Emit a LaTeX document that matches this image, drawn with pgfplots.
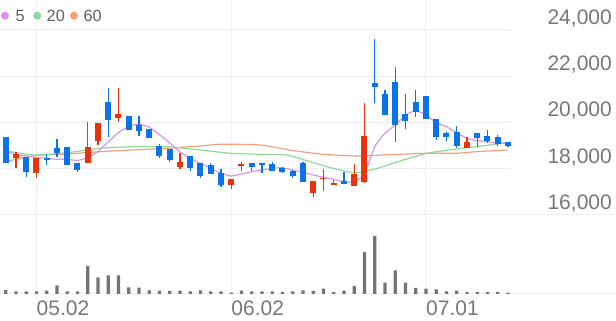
\documentclass[border=0pt]{standalone}
\usepackage{fontspec}
\setmainfont{Liberation Sans}
\usepackage{pgfplots}
\usepackage{pgfplotstable}
\pgfplotsset{compat=1.18}
\definecolor{cred}{HTML}{E8330C}
\definecolor{cblue}{HTML}{0B73E8}
\definecolor{cma5}{HTML}{D894EC}
\definecolor{cma20}{HTML}{8FD99B}
\definecolor{cma60}{HTML}{F5A07A}
\definecolor{cgrid}{HTML}{EFEFEF}
\definecolor{ctext}{HTML}{777777}
\definecolor{clegtext}{HTML}{5F5F5F}
\definecolor{cvol}{HTML}{747474}

% up (red) candles: x open high low close
\pgfplotstableread{
x o h l c
1 18452 18738 18020 18625
3 17804 18478 17587 18478
8 18262 20035 18262 18928
9 19213 19992 19027 19992
11 20182 21479 20035 20368
17 18089 18669 17977 18305
22 17298 17544 17112 17544
23 18119 18305 17916 18193
30 16965 17471 16792 17471
31 17544 17977 17038 17613
32 17298 17514 17298 17397
34 17267 18206 17267 17760
35 17440 20856 17397 19430
45 18885 19360 18885 19144
}\redtab

% down (blue) candles
\pgfplotstableread{
x o h l c
0 19386 19386 18236 18236
2 18521 18521 17657 17873
4 18452 18638 18163 18379
5 18885 19287 18521 18669
6 18928 18928 18163 18163
7 18236 18236 17847 17946
10 20900 21479 19386 20108
12 20294 20294 19676 19676
13 19892 20281 19417 19633
14 19706 19706 19317 19317
15 18997 19071 18452 18565
16 18854 18854 18305 18379
18 18552 18552 17916 18020
19 18236 18236 17587 17700
20 18163 18236 17773 17773
21 17804 17977 17224 17298
24 18262 18262 17916 18063
25 18236 18236 17804 18163
26 18206 18305 17916 17916
27 18046 18089 17804 17873
28 17903 17946 17613 17687
29 18236 18279 17440 17440
33 17484 17873 17328 17328
36 21695 23611 20856 21548
37 21233 21406 20325 20325
38 21764 22413 19170 19892
39 20355 21220 19706 20078
40 20900 21406 20251 20467
41 21159 21159 20152 20152
42 20152 20152 19244 19360
43 19533 19577 19213 19360
44 19602 19862 18885 18984
46 19559 19559 18954 19317
47 19430 19676 19127 19213
48 19386 19460 18997 19071
49 19170 19170 18928 18997
}\bluetab

\pgfplotstableread{
x y
0 18746
1 18617
2 18552
3 18487
4 18452
5 18409
6 18409
7 18357
8 18487
9 18746
10 19157
11 19568
12 19827
13 19935
14 19793
15 19473
16 19114
17 18738
18 18452
19 18227
20 18020
21 17804
22 17687
23 17773
24 17873
25 17946
26 18020
27 18046
28 17946
29 17847
30 17730
31 17631
32 17544
33 17440
34 17440
35 17773
36 18954
37 19533
38 19892
39 20325
40 20511
41 20325
42 19992
43 19819
44 19559
45 19317
46 19213
47 19170
48 19101
49 19101
}\mafive

\pgfplotstableread{
x y
0 18781
2.7 18595
6 18694
9.2 18885
12.4 18954
15.7 18954
19 18811
21.9 18669
24.8 18625
27.4 18595
29.7 18305
31.9 18020
33.9 17830
35 17873
36.8 18089
38.8 18379
41.1 18669
43.3 18811
45.9 18954
49 19127
}\matwenty

\pgfplotstableread{
x y
0 18305
2.7 18565
6 18638
9.2 18738
12.4 18811
15.7 18885
19 18984
20.9 19058
24.8 19027
27.7 18811
30.7 18638
33.9 18552
35.2 18552
36.8 18595
41.1 18669
44 18669
45.9 18738
49 18811
}\masixty

\pgfplotstableread{
x v
0 120
1 80
2 80
3 80
4 100
5 260
6 80
7 80
8 840
9 500
10 560
11 560
12 200
13 190
14 110
15 100
16 90
17 100
18 80
19 110
20 80
21 80
22 40
23 100
24 80
25 80
26 80
27 60
28 80
29 110
30 90
31 160
32 60
33 100
34 240
35 1260
36 1740
37 340
38 710
39 340
40 180
41 160
42 140
43 80
44 100
45 60
46 60
47 60
48 60
49 40
}\voltab

\begin{document}
\begin{tikzpicture}
\useasboundingbox (0pt,0pt) rectangle (616pt,321pt);
% price panel
\begin{axis}[
  at={(0pt,106pt)}, anchor=south west,
  scale only axis, width=511pt, height=215pt,
  xmin=-0.556, xmax=49.3, ymin=16000, ymax=25297,
  axis line style={draw=none}, major tick length=0pt,
  xtick={3,22,41}, xticklabels={}, xmajorgrids,
  ytick={16000,18000,20000,22000,24000}, ymajorgrids,
  grid style={draw=cgrid, line width=1pt},
  yticklabel pos=right,
  yticklabel style={anchor=base east, inner sep=0pt, xshift=101pt, yshift=5.5pt,
     font=\fontsize{21}{24}\selectfont, text=ctext},
  /pgf/number format/assume math mode=true,
  /pgf/number format/1000 sep={,},
  scaled y ticks=false,
  candle/.style={draw=none, mark=none, error bars/.cd, y dir=plus, y explicit, error mark=none},
]
\addplot[cma60, line width=1.2pt, smooth, tension=0.4] table[x=x,y=y] {\masixty};
\addplot[cma20, line width=1.2pt, smooth, tension=0.4] table[x=x,y=y] {\matwenty};
\addplot[cma5, line width=1.2pt, smooth, tension=0.3] table[x=x,y=y] {\mafive};
% wicks
\addplot[candle, error bar style={line width=1.3pt, draw=cred}]
  table[x=x, y=l, y error plus expr=\thisrow{h}-\thisrow{l}] {\redtab};
\addplot[candle, error bar style={line width=1.3pt, draw=cblue}]
  table[x=x, y=l, y error plus expr=\thisrow{h}-\thisrow{l}] {\bluetab};
% bodies
\addplot[candle, error bar style={line width=6pt, draw=cred}]
  table[x=x, y=o, y error plus expr=\thisrow{c}-\thisrow{o}] {\redtab};
\addplot[candle, error bar style={line width=6pt, draw=cblue}]
  table[x=x, y=c, y error plus expr=\thisrow{o}-\thisrow{c}] {\bluetab};
\end{axis}
% volume panel
\begin{axis}[
  at={(0pt,27pt)}, anchor=south west,
  scale only axis, width=616pt, height=79pt,
  xmin=-0.556, xmax=59.54, ymin=0, ymax=2370,
  axis x line*=box, axis y line=none,
  axis line style={draw=cgrid, line width=1pt},
  major tick length=0pt,
  xtick={3,22,41}, xticklabels={05.02,06.02,07.01}, xmajorgrids,
  ytick=\empty,
  grid style={draw=cgrid, line width=1pt},
  xticklabel style={anchor=north west, inner sep=0pt, yshift=-7pt,
     font=\fontsize{21}{24}\selectfont, text=ctext},
]
\addplot[ybar, bar width=3.3pt, bar shift=0pt, fill=cvol, draw=none] table[x=x,y=v] {\voltab};
\end{axis}
% legend
\fill[cma5] (5pt,305.3pt) circle (4pt);
\node[anchor=west, inner sep=0pt, text=clegtext, font=\fontsize{16.3}{18}\selectfont] at (15.5pt,305.3pt) {5};
\fill[cma20] (37.3pt,305.3pt) circle (4pt);
\node[anchor=west, inner sep=0pt, text=clegtext, font=\fontsize{16.3}{18}\selectfont] at (46.5pt,305.3pt) {20};
\fill[cma60] (74pt,305.3pt) circle (4pt);
\node[anchor=west, inner sep=0pt, text=clegtext, font=\fontsize{16.3}{18}\selectfont] at (83.3pt,305.3pt) {60};
\end{tikzpicture}
\end{document}
